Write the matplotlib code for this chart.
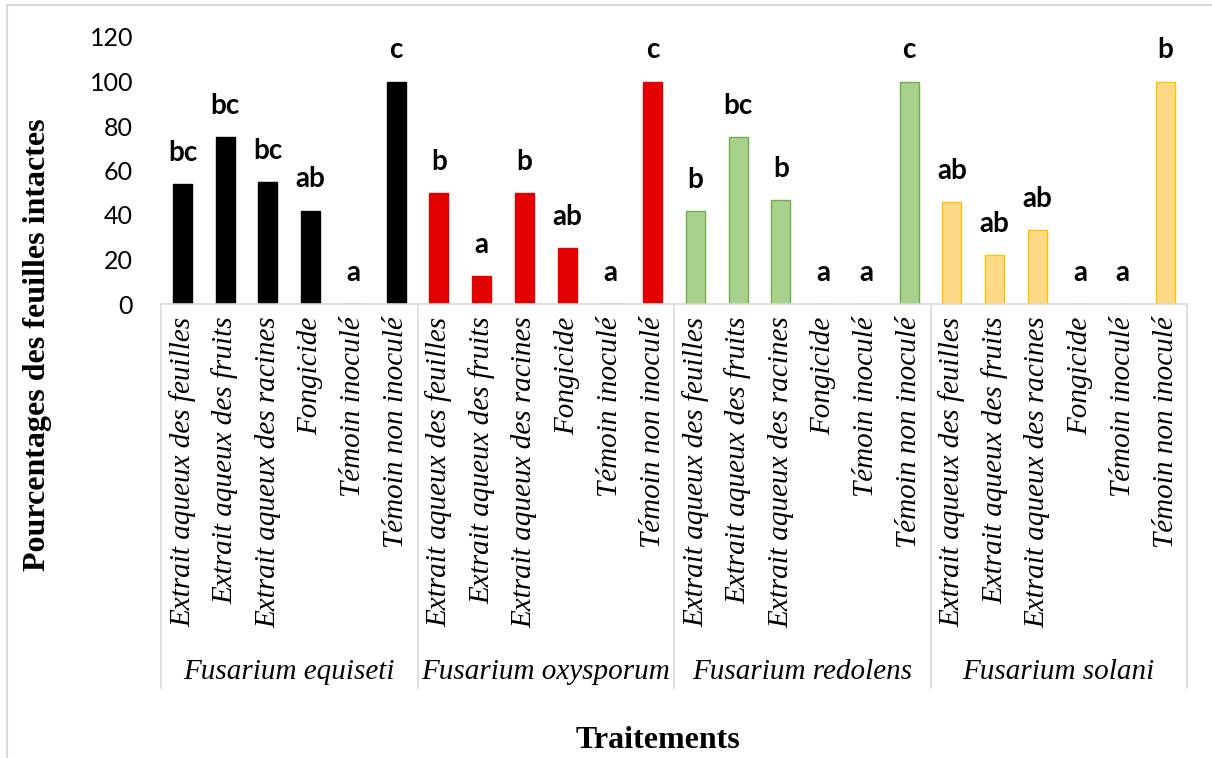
import numpy as np
import matplotlib.pyplot as plt
from matplotlib.patches import Rectangle

# Données
traitements = ['Extrait aqueux des feuilles', 'Extrait aqueux des fruits',
               'Extrait aqueux des racines', 'Fongicide', 'Témoin inoculé',
               'Témoin non inoculé']
especes = ['Fusarium equiseti', 'Fusarium oxysporum', 'Fusarium redolens',
           'Fusarium solani']

equiseti = [54, 75, 55, 42, 0, 100]
oxysporum = [50, 12.5, 50, 25, 0, 100]
redolens = [41.7, 75, 46.7, 0, 0, 100]
solani = [45.8, 22.2, 33.3, 0, 0, 100]

lettres_equiseti = ['bc', 'bc', 'bc', 'ab', 'a', 'c']
lettres_oxysporum = ['b', 'a', 'b', 'ab', 'a', 'c']
lettres_redolens = ['b', 'bc', 'b', 'a', 'a', 'c']
lettres_solani = ['ab', 'ab', 'ab', 'a', 'a', 'b']

valeurs = [equiseti, oxysporum, redolens, solani]
lettres = [lettres_equiseti, lettres_oxysporum, lettres_redolens, lettres_solani]
couleurs = ['#000000', '#E30000', '#A9D18E', '#FFD985']
bords = ['#000000', '#E30000', '#70AD47', '#FFC000']

fig = plt.figure(figsize=(12.12, 7.58), dpi=100)
ax = fig.add_axes([161/1212, 454/758, (1187-161)/1212, 267/758])

n = len(traitements)
x = np.arange(len(especes) * n)
for g in range(len(especes)):
    xs = x[g*n:(g+1)*n]
    ax.bar(xs, valeurs[g], width=0.44, color=couleurs[g], edgecolor=bords[g],
           linewidth=1)
    for xi, v, l in zip(xs, valeurs[g], lettres[g]):
        ax.annotate(l, (xi, v), xytext=(0, 13), textcoords='offset points',
                    ha='center', va='bottom', fontsize=20, fontweight='bold',
                    family='Lato')

ax.set_xlim(-0.5, len(x) - 0.5)
ax.set_ylim(0, 120)
ax.set_yticks(np.arange(0, 121, 20))
ax.tick_params(axis='y', length=0, pad=20, labelsize=18)
for t in ax.get_yticklabels():
    t.set_family('Lato')

ax.set_xticks(x)
ax.set_xticklabels(traitements * len(especes), rotation=90, fontsize=21,
                   family='Liberation Serif', style='italic')
ax.tick_params(axis='x', length=0, pad=9)

for s in ['top', 'right', 'left', 'bottom']:
    ax.spines[s].set_visible(False)

# Cadre des catégories
trans = ax.get_xaxis_transform()
ax.plot([-0.5, len(x) - 0.5], [0, 0], color='#D9D9D9', lw=1.2,
        transform=trans, clip_on=False)
for b in range(len(especes) + 1):
    ax.plot([b*n - 0.5, b*n - 0.5], [0, -1.438], color='#D9D9D9', lw=1.2,
            transform=trans, clip_on=False)
for g, nom in enumerate(especes):
    ax.text(g*n + (n - 1) / 2, -1.378, nom, transform=trans, ha='center',
            va='center', fontsize=21, family='Liberation Serif', style='italic')

fig.text(38/1212, 1 - 345/758, 'Pourcentages des feuilles intactes',
         rotation=90, ha='center', va='center', fontsize=23,
         fontweight='bold', family='Liberation Serif')
fig.text(658/1212, 1 - 740/758, 'Traitements', ha='center', va='center',
         fontsize=23, fontweight='bold', family='Liberation Serif')

fig.patches.append(Rectangle((7/1212, -0.1), 1.2, 1.1 - 5/758, fill=False,
                             edgecolor='#D9D9D9', lw=1.5,
                             transform=fig.transFigure, figure=fig))

fig.savefig('out.png', dpi=100)
